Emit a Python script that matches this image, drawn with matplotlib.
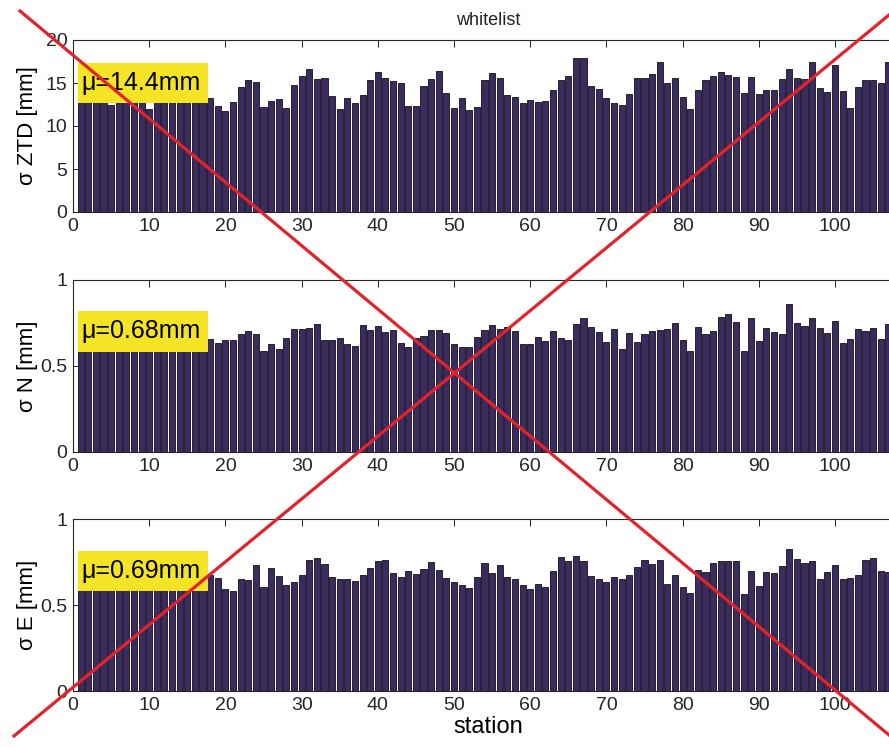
import matplotlib
matplotlib.use("Agg")
import matplotlib.pyplot as plt
from matplotlib.lines import Line2D
from matplotlib.patches import Rectangle
import numpy as np

plt.rcParams['font.family'] = ['Liberation Sans', 'DejaVu Sans']

title = "whitelist"
xlabel = "station"
ylabels = ["σ ZTD [mm]", "σ N [mm]", "σ E [mm]"]
mean_labels = ["μ=14.4mm", "μ=0.68mm", "μ=0.69mm"]

sigma_ztd = [14.5, 13.8, 15.2, 14.0, 12.5, 13.5, 14.8, 13.2, 15.0, 12.0,
             13.9, 14.6, 13.0, 15.5, 14.2, 13.6, 14.9, 13.3, 12.3, 11.8,
             12.8, 14.5, 15.4, 15.1, 12.25, 12.95, 13.1, 12.05, 14.8, 15.85,
             16.65, 15.5, 15.6, 13.5, 12.0, 13.3, 12.7, 13.65, 15.3, 16.3,
             15.6, 15.2, 15.05, 12.35, 12.35, 14.65, 15.45, 16.35, 13.85, 12.1,
             13.3, 11.9, 12.2, 15.4, 16.15, 15.6, 13.55, 13.35, 12.7, 13.05,
             12.8, 12.95, 14.2, 15.3, 15.8, 17.85, 17.85, 14.6, 14.25, 13.2,
             12.7, 12.4, 13.7, 15.55, 15.55, 16.1, 17.4, 15.05, 15.6, 13.4,
             11.95, 14.2, 15.35, 15.85, 16.3, 15.95, 15.7, 13.8, 15.65, 13.7,
             14.15, 14.15, 15.45, 16.6, 15.6, 15.5, 17.5, 14.45, 13.9, 17.15,
             14.05, 12.15, 14.55, 15.3, 15.3, 15.05, 17.4, 15.0]

sigma_n = [0.70, 0.66, 0.72, 0.68, 0.64, 0.71, 0.69, 0.67, 0.73, 0.65,
           0.70, 0.68, 0.66, 0.72, 0.69, 0.67, 0.71, 0.655, 0.636, 0.651,
           0.651, 0.686, 0.705, 0.684, 0.587, 0.626, 0.601, 0.661, 0.713, 0.717,
           0.723, 0.746, 0.653, 0.651, 0.663, 0.630, 0.616, 0.740, 0.709, 0.733,
           0.696, 0.707, 0.634, 0.610, 0.661, 0.674, 0.709, 0.709, 0.694, 0.628,
           0.610, 0.612, 0.670, 0.709, 0.738, 0.717, 0.729, 0.703, 0.630, 0.626,
           0.668, 0.645, 0.703, 0.663, 0.651, 0.744, 0.781, 0.725, 0.698, 0.640,
           0.717, 0.597, 0.690, 0.640, 0.688, 0.705, 0.711, 0.717, 0.750, 0.653,
           0.585, 0.725, 0.686, 0.703, 0.783, 0.800, 0.758, 0.587, 0.777, 0.647,
           0.723, 0.700, 0.684, 0.862, 0.752, 0.734, 0.777, 0.723, 0.692, 0.764,
           0.632, 0.655, 0.717, 0.703, 0.721, 0.659, 0.746, 0.70]

sigma_e = [0.71, 0.68, 0.73, 0.66, 0.70, 0.72, 0.67, 0.69, 0.74, 0.65,
           0.70, 0.68, 0.72, 0.66, 0.71, 0.69, 0.67, 0.677, 0.658, 0.595,
           0.579, 0.651, 0.645, 0.735, 0.606, 0.718, 0.668, 0.616, 0.635, 0.674,
           0.759, 0.776, 0.739, 0.662, 0.651, 0.654, 0.641, 0.674, 0.714, 0.753,
           0.759, 0.687, 0.664, 0.699, 0.680, 0.712, 0.749, 0.705, 0.656, 0.631,
           0.617, 0.600, 0.664, 0.747, 0.687, 0.732, 0.664, 0.649, 0.616, 0.593,
           0.620, 0.602, 0.699, 0.780, 0.753, 0.784, 0.753, 0.668, 0.652, 0.633,
           0.660, 0.649, 0.672, 0.720, 0.761, 0.741, 0.762, 0.624, 0.674, 0.604,
           0.567, 0.705, 0.693, 0.743, 0.757, 0.757, 0.753, 0.564, 0.697, 0.608,
           0.693, 0.687, 0.726, 0.824, 0.770, 0.745, 0.753, 0.649, 0.693, 0.732,
           0.654, 0.658, 0.672, 0.759, 0.776, 0.699, 0.689, 0.70]

series = [sigma_ztd, sigma_n, sigma_e]
yticks_list = [[0, 5, 10, 15, 20], [0, 0.5, 1], [0, 0.5, 1]]
ytick_labels = [["0", "5", "10", "15", "20"], ["0", "0.5", "1"], ["0", "0.5", "1"]]
ylim_list = [(0, 20), (0, 1), (0, 1)]
xticks = list(range(0, 101, 10))

W, H = 889, 747
fig = plt.figure(figsize=(W / 100, H / 100), dpi=100)

bar_color = '#3b2b62'
axis_color = '#262626'

n = len(sigma_ztd)
stations = np.arange(1, n + 1)
px_per_unit = 7.62
ax_left = 73
ax_width = (n + 1) * px_per_unit
tops = [40, 280, 519]
ax_h = 172
# label box (pixels, relative to each axes): top offset, height
box_top_off = [23.3, 30.7, 31.7]
box_height = [39.4, 41.0, 40.3]

axes = []
for i, vals in enumerate(series):
    bottom_px = tops[i] + ax_h
    ax = fig.add_axes([ax_left / W, 1 - bottom_px / H, ax_width / W, ax_h / H])
    ax.bar(stations, vals, width=0.8, color=bar_color, edgecolor='#111111',
           linewidth=0.6, zorder=2)
    ax.set_xlim(0, n + 1)
    ax.set_ylim(*ylim_list[i])
    ax.set_xticks(xticks)
    ax.set_xticklabels([str(t) for t in xticks])
    ax.set_yticks(yticks_list[i])
    ax.set_yticklabels(ytick_labels[i])
    ax.tick_params(direction='in', length=5, width=0.7, colors=axis_color,
                   labelsize=14, top=True, right=True, pad=4)
    for s in ax.spines.values():
        s.set_color(axis_color)
        s.set_linewidth(0.8)
    ax.set_ylabel(ylabels[i], fontsize=16, color='black')
    ax.yaxis.set_label_coords(-0.042, 0.5)
    bx0 = 4.5 / ax_width
    bw = 130.0 / ax_width
    by1 = 1 - box_top_off[i] / ax_h
    bh = box_height[i] / ax_h
    ax.add_patch(Rectangle((bx0, by1 - bh), bw, bh, transform=ax.transAxes,
                           facecolor='#f5e425', edgecolor='none', zorder=4))
    ax.text(8.7 / ax_width, by1 - bh / 2, mean_labels[i], fontsize=18,
            transform=ax.transAxes, ha='left', va='center', color='black',
            zorder=5)
    axes.append(ax)

axes[0].set_title(title, fontsize=13, pad=11, color='#222222')
axes[2].set_xlabel(xlabel, fontsize=17, labelpad=2)

# red cross over the whole figure
red = '#e3222b'
fig.add_artist(Line2D([20 / W, 1.0], [1 - 11 / H, 1 - 735 / H],
                      transform=fig.transFigure, color=red, linewidth=2.3, zorder=10))
fig.add_artist(Line2D([14 / W, 1.0], [1 - 736 / H, 1 - 15 / H],
                      transform=fig.transFigure, color=red, linewidth=2.3, zorder=10))

fig.savefig('out.png', dpi=100)
